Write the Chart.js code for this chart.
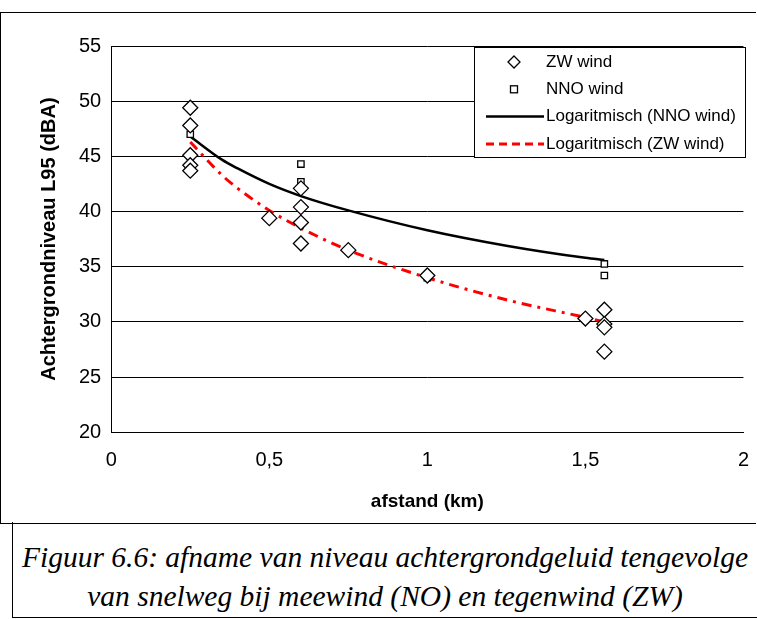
<!DOCTYPE html>
<html><head><meta charset="utf-8">
<script src="https://cdn.jsdelivr.net/npm/chart.js@4/dist/chart.umd.min.js"></script>
<style>
body{margin:0;background:#fff;width:757px;height:619px;position:relative;overflow:hidden}
#frame{position:absolute;left:0;top:12px;width:755px;height:510px;border:1px solid #000;border-right:none}
#wrap{position:absolute;left:1px;top:13px;width:756px;height:508px}
#cap{position:absolute;left:12px;top:522px;width:745px;height:96px;border:1px solid #000;border-top:none;border-right:none;
font-family:"Liberation Serif",serif;font-style:italic;font-size:29.5px;text-align:center;line-height:39px;padding-top:16px;box-sizing:border-box;white-space:nowrap}
</style></head><body>
<div id="frame"></div>
<div id="wrap"><canvas id="c"></canvas></div>
<div id="cap">Figuur 6.6: afname van niveau achtergrondgeluid tengevolge<br>van snelweg bij meewind (NO) en tegenwind (ZW)</div>
<script>
const zwX=[0.25,0.25,0.25,0.25,0.25,0.5,0.6,0.6,0.6,0.6,0.75,1.0,1.5,1.56,1.56,1.56,1.56];
const zwY=[49.4,47.8,45.1,44.2,43.7,39.4,42.1,40.4,39.0,37.1,36.5,34.2,30.3,31.1,29.8,29.5,27.3];
const nnoX=[0.25,0.25,0.6,0.6,1.0,1.56,1.56];
const nnoY=[47.0,44.2,44.3,42.7,34.0,35.25,34.2];
const trendX=[0.25,0.35,0.4,0.5,0.6,0.75,1.0,1.25,1.5,1.56];
const trendNNO=[46.8,44.7,43.9,42.5,41.4,40.1,38.3,36.9,35.8,35.6];
const trendZW=[46.3,43.3,42.1,40.1,38.5,36.5,34.0,32.0,30.4,30.0];
const xTicks=[0,0.5,1,1.5,2];
const pts=(xs,ys)=>xs.map((x,i)=>({x:x,y:ys[i]}));
const F='"Liberation Sans",Arial,sans-serif';
new Chart(document.getElementById('c'),{
type:'scatter',
data:{datasets:[
{label:'ZW wind',data:pts(zwX,zwY),pointStyle:'rectRot',pointRadius:7.5,borderColor:'#000',backgroundColor:'#fff',borderWidth:1.3,showLine:false},
{label:'NNO wind',data:pts(nnoX,nnoY),pointStyle:'rect',pointRadius:4.5,borderColor:'#000',backgroundColor:'#fff',borderWidth:1.3,showLine:false},
{label:'Logaritmisch (NNO wind)',data:pts(trendX,trendNNO),showLine:true,borderColor:'#000',borderWidth:2.5,pointRadius:0,cubicInterpolationMode:'monotone'},
{label:'Logaritmisch (ZW wind)',data:pts(trendX,trendZW),showLine:true,borderColor:'#ff0000',borderWidth:3,borderDash:[10,6,3,6],pointRadius:0,cubicInterpolationMode:'monotone'}
]},
options:{responsive:true,maintainAspectRatio:false,animation:false,
layout:{padding:{left:32,right:10,top:33,bottom:4}},
plugins:{legend:{display:false},tooltip:{enabled:false}},
scales:{
x:{type:'linear',min:0,max:2,afterBuildTicks:a=>{a.ticks=xTicks.map(v=>({value:v}));},
 grid:{display:false},border:{color:'#000',width:1},
 ticks:{color:'#000',font:{family:F,size:20},callback:v=>String(v).replace('.',','),padding:8},
 title:{display:true,text:'afstand (km)',color:'#000',font:{family:F,size:19,weight:'bold'},padding:{top:10}}},
y:{min:20,max:55,ticks:{stepSize:5,color:'#000',font:{family:F,size:20},padding:10},
 grid:{color:'#000',drawTicks:false},border:{color:'#000',width:1},
 title:{display:true,text:'Achtergrondniveau L95 (dBA)',color:'#000',font:{family:F,size:20,weight:'bold'},padding:{bottom:8}}}
}},
plugins:[{id:'leg',afterDraw(ch){
 const c=ch.ctx,x0=474-1,y0=47-13,w=271,h=110;
 c.save();c.fillStyle='#fff';c.fillRect(x0,y0,w,h);c.strokeStyle='#000';c.lineWidth=1;c.strokeRect(x0+.5,y0+.5,w,h);
 c.font='17px '+F;c.fillStyle='#000';c.textBaseline='middle';
 const rows=['ZW wind','NNO wind','Logaritmisch (NNO wind)','Logaritmisch (ZW wind)'];
 rows.forEach((t,i)=>{const y=y0+15+i*27.3;c.fillText(t,x0+72,y);
  c.lineWidth=1.3;c.strokeStyle='#000';
  if(i==0){c.beginPath();c.moveTo(x0+40,y-6);c.lineTo(x0+46,y);c.lineTo(x0+40,y+6);c.lineTo(x0+34,y);c.closePath();c.stroke();}
  if(i==1){c.strokeRect(x0+36.5,y-3.5,7,7);}
  if(i==2){c.lineWidth=2.5;c.beginPath();c.moveTo(x0+12,y);c.lineTo(x0+70,y);c.stroke();}
  if(i==3){c.lineWidth=3;c.strokeStyle='#f00';c.setLineDash([8,5]);c.beginPath();c.moveTo(x0+12,y);c.lineTo(x0+70,y);c.stroke();c.setLineDash([]);}
 });c.restore();}}]
});
</script></body></html>
